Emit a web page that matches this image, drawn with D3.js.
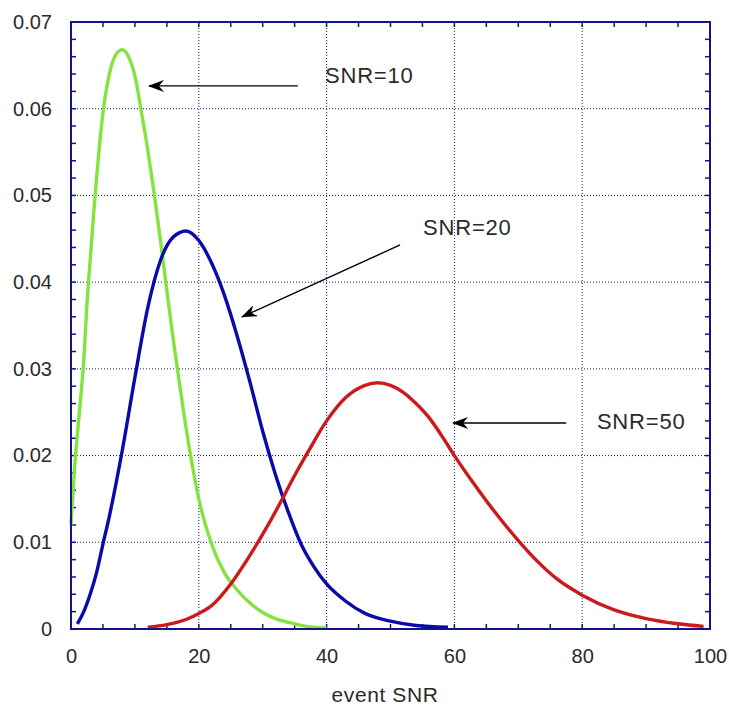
<!DOCTYPE html>
<html><head><meta charset="utf-8">
<script src="https://cdn.jsdelivr.net/npm/d3@7"></script>
<style>body{margin:0;background:#fff}svg{display:block}</style>
</head><body>
<script>
const xTicks = [0,20,40,60,80,100];
const yTicks = [0,0.01,0.02,0.03,0.04,0.05,0.06,0.07];
const xLabel = "event SNR";

const greenX = [0,0.5,1,1.5,2,2.5,3,3.5,4,5,6,7,8,9,10,11,12,13,14,15,16,17,18,19,20,22,24,26,28,30,32,35,38,40];
const greenY = [0.012,0.018,0.0225,0.0265,0.031,0.0375,0.0425,0.0475,0.052,0.0595,0.064,0.0662,0.0668,0.066,0.0638,0.0597,0.0553,0.0503,0.0448,0.039,0.0334,0.0282,0.0232,0.0188,0.015,0.0098,0.0065,0.0045,0.003,0.0019,0.0012,0.0006,0.0002,0.0001];

const blueX = [1,2,3,4,5,6,8,10,12,14,16,18,20,22,24,26,28,30,32,34,36,38,40,43,46,50,54,59];
const blueY = [0.0006,0.002,0.004,0.0065,0.0098,0.013,0.0205,0.029,0.037,0.0425,0.0452,0.0459,0.0448,0.0422,0.0385,0.0338,0.0285,0.0228,0.0178,0.0135,0.0098,0.0072,0.0052,0.0032,0.0018,0.0009,0.0004,0.0002];

const redX = [12,15,18,20,22,25,28,31,33,35,37,40,43,46,48,50,52,54,56,58,60,63,66,70,73,76,80,85,90,95,99];
const redY = [0.0002,0.0005,0.0011,0.0018,0.0027,0.0052,0.0085,0.0122,0.0149,0.0177,0.0203,0.024,0.0267,0.0281,0.0284,0.0281,0.0273,0.026,0.0244,0.0223,0.020,0.0168,0.0138,0.0102,0.0078,0.0058,0.0039,0.0022,0.0012,0.0006,0.0003];

const annLabels = ["SNR=10","SNR=20","SNR=50"];
const annTextPos = [[39.75,0.0630],[55.1,0.04545],[82.3,0.02307]];   // data coords of label start/baseline
const annArrowFrom = [[35.5,0.06263],[51.5,0.04429],[77.5,0.02376]];
const annArrowTo = [[12.2,0.06263],[26.76,0.03599],[59.8,0.02376]];

const W=729,H=709;
const L=71,R=710,T=22,B=629;
const x = d3.scaleLinear().domain([0,100]).range([L,R]);
const y = d3.scaleLinear().domain([0,0.07]).range([B,T]);

const svg = d3.select("body").append("svg").attr("width",W).attr("height",H);
const navy = "#14148a";
const font = "'Liberation Sans', Arial, sans-serif";
const txt = "#2a2a2a";

// grid
const g = svg.append("g");
g.selectAll(".gx").data(xTicks.slice(1,-1)).enter().append("line")
 .attr("x1",d=>x(d)).attr("x2",d=>x(d)).attr("y1",T).attr("y2",B)
 .attr("stroke",navy).attr("stroke-width",1).attr("stroke-dasharray","1,2");
g.selectAll(".gy").data(yTicks.slice(1,-1)).enter().append("line")
 .attr("y1",d=>y(d)).attr("y2",d=>y(d)).attr("x1",L).attr("x2",R)
 .attr("stroke",navy).attr("stroke-width",1).attr("stroke-dasharray","1,2");

// minor ticks inward
const xMinor = d3.range(0,100.01,5);
const yMinor = d3.range(0,0.07001,0.002);
const tl = 5;
xMinor.forEach(v=>{
  g.append("line").attr("x1",x(v)).attr("x2",x(v)).attr("y1",B).attr("y2",B-tl).attr("stroke",navy).attr("stroke-width",1.5);
  g.append("line").attr("x1",x(v)).attr("x2",x(v)).attr("y1",T).attr("y2",T+tl).attr("stroke",navy).attr("stroke-width",1.5);
});
yMinor.forEach(v=>{
  g.append("line").attr("y1",y(v)).attr("y2",y(v)).attr("x1",L).attr("x2",L+tl).attr("stroke",navy).attr("stroke-width",1.5);
  g.append("line").attr("y1",y(v)).attr("y2",y(v)).attr("x1",R).attr("x2",R-tl).attr("stroke",navy).attr("stroke-width",1.5);
});

// axes labels via d3 axes (no domain, no ticks)
const xa = svg.append("g").attr("transform",`translate(0,${B})`)
 .call(d3.axisBottom(x).tickValues(xTicks).tickFormat(d3.format("d")).tickSize(0).tickPadding(20));
const ya = svg.append("g").attr("transform",`translate(${L},0)`)
 .call(d3.axisLeft(y).tickValues(yTicks).tickFormat(d=>d===0?"0":d3.format(".2f")(d)).tickSize(0).tickPadding(19));
[xa,ya].forEach(a=>{a.select(".domain").remove();a.selectAll("text").attr("font-family",font).attr("font-size",20).attr("fill",txt);});

svg.append("text").attr("x",385).attr("y",702).attr("text-anchor","middle")
 .attr("font-family",font).attr("font-size",21).attr("letter-spacing",0.6).attr("fill",txt).text(xLabel);

// curves
const line = d3.line().x(d=>x(d[0])).y(d=>y(d[1])).curve(d3.curveMonotoneX);
const series = [[greenX,greenY,"#85e33f"],[blueX,blueY,"#0a0aa8"],[redX,redY,"#cc1a1a"]];
series.forEach(([xs,ys,c])=>{
  svg.append("path").datum(xs.map((v,i)=>[v,ys[i]])).attr("d",line)
   .attr("fill","none").attr("stroke",c).attr("stroke-width",3.4).attr("stroke-linejoin","round");
});

// frame
svg.append("rect").attr("x",L).attr("y",T).attr("width",R-L).attr("height",B-T)
 .attr("fill","none").attr("stroke",navy).attr("stroke-width",2);

// annotations
const defs = svg.append("defs");
defs.append("marker").attr("id","ah").attr("viewBox","0 0 16 12").attr("refX",15).attr("refY",6)
 .attr("markerWidth",16).attr("markerHeight",12).attr("markerUnits","userSpaceOnUse").attr("orient","auto")
 .append("path").attr("d","M16,6 L0,0 L5,6 L0,12 Z").attr("fill","#000");

annLabels.forEach((t,i)=>{
  svg.append("line").attr("x1",x(annArrowFrom[i][0])).attr("y1",y(annArrowFrom[i][1]))
   .attr("x2",x(annArrowTo[i][0])).attr("y2",y(annArrowTo[i][1]))
   .attr("stroke","#000").attr("stroke-width",1.4).attr("marker-end","url(#ah)");
  svg.append("text").attr("x",x(annTextPos[i][0])).attr("y",y(annTextPos[i][1])).attr("text-anchor","start")
   .attr("font-family",font).attr("font-size",22).attr("letter-spacing",0.8).attr("fill",txt).text(t);
});
</script>
</body></html>
